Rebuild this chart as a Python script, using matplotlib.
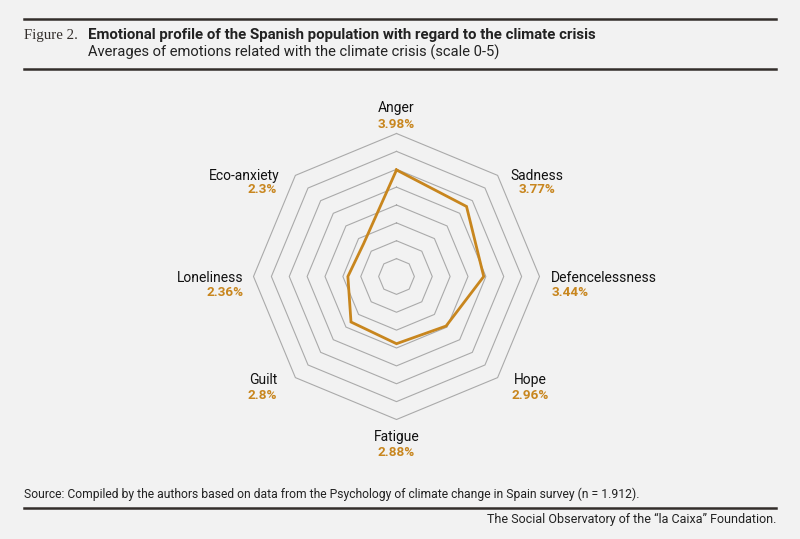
import numpy as np
import matplotlib
matplotlib.use("Agg")
import matplotlib.pyplot as plt
from matplotlib.lines import Line2D

# ---- data ----
categories = ["Anger", "Sadness", "Defencelessness", "Hope",
              "Fatigue", "Guilt", "Loneliness", "Eco-anxiety"]
values = [3.98, 3.77, 3.44, 2.96, 2.88, 2.8, 2.36, 2.3]
value_labels = [f"{v:g}%" for v in values]
ring_levels = [1.5, 2.0, 2.5, 3.0, 3.5, 4.0, 4.5, 5.0]
r_min, r_max = 1.0, 5.0

title_fig = "Figure 2."
title = "Emotional profile of the Spanish population with regard to the climate crisis"
subtitle = "Averages of emotions related with the climate crisis (scale 0-5)"
source = "Source: Compiled by the authors based on data from the Psychology of climate change in Spain survey (n = 1.912)."
credit = "The Social Observatory of the \u201cla Caixa\u201d Foundation."

BG = "#f2f2f2"
ORANGE = "#c8861e"
DARK = "#332e2b"
GRID = "#aaaaaa"
FONT = ["Roboto", "DejaVu Sans"]

fig = plt.figure(figsize=(8, 5.39), dpi=100)
fig.patch.set_facecolor(BG)

W, H = 800, 539
cx, cy, R = 396.5, 276.5, 143.0
ax = fig.add_axes([(cx - R) / W, (H - cy - R) / H, 2 * R / W, 2 * R / H],
                  projection="polar")
ax.set_facecolor("none")
ax.set_theta_zero_location("N")
ax.set_theta_direction(-1)
ax.set_ylim(r_min, r_max)
ax.grid(False)
ax.set_xticks([])
ax.set_yticks([])
ax.spines["polar"].set_visible(False)

n = len(categories)
theta = np.linspace(0, 2 * np.pi, n, endpoint=False)
theta_c = np.append(theta, theta[0])

for lev in ring_levels:
    ax.plot(theta_c, [lev] * (n + 1), color=GRID, lw=0.8, zorder=1,
            clip_on=False)

vals_c = np.append(values, values[0])
ax.plot(theta_c, vals_c, color=ORANGE, lw=2.0, zorder=3, solid_joinstyle="miter",
        clip_on=False)

# label placement styles (pixel offsets from the outer vertex)
styles = [
    ("center", 0, 25.5, 0, 9.5),
    ("center", 39, -0.6, 39, -14.6),
    ("left", 11.5, -1.5, 12.5, -16.5),
    ("center", 33, -2.4, 33, -17.4),
    ("center", 0, -17.5, 0, -32.5),
    ("right", -18.4, -2.4, -18.4, -17.4),
    ("right", -9.5, -1.5, -9.5, -16.5),
    ("right", -15.4, -0.6, -18.4, -14.6),
]
for t, name, vl, (ha, dxn, dyn, dxv, dyv) in zip(theta, categories, value_labels, styles):
    ax.annotate(name, xy=(t, r_max), xytext=(dxn, dyn), textcoords="offset pixels",
                ha=ha, va="center", fontsize=10, color="#111111",
                family=FONT, annotation_clip=False)
    ax.annotate(vl, xy=(t, r_max), xytext=(dxv, dyv), textcoords="offset pixels",
                ha=ha, va="center", fontsize=9.7, color=ORANGE, fontweight="bold",
                family=FONT, annotation_clip=False)

# ---- header / footer ----
def hline(y, lw):
    fig.add_artist(Line2D([24 / W, 776 / W], [1 - y / H, 1 - y / H],
                          color=DARK, lw=lw, transform=fig.transFigure))

hline(18.5, 1.8)
hline(69, 1.8)
hline(508, 1.8)

fig.text(24 / W, 1 - 35 / H, title_fig, family=["Liberation Serif", "DejaVu Serif"],
         fontsize=10.7, color=DARK, va="center", ha="left")
fig.text(88.5 / W, 1 - 35 / H, title, family=FONT, fontsize=10.8, fontweight="bold",
         color="#222222", va="center", ha="left")
fig.text(88.5 / W, 1 - 52 / H, subtitle, family=FONT, fontsize=10.6,
         color="#222222", va="center", ha="left")
fig.text(24 / W, 1 - 494 / H, source, family=FONT, fontsize=8.7,
         color="#222222", va="center", ha="left")
fig.text(776 / W, 1 - 519.5 / H, credit, family=FONT, fontsize=9,
         color="#222222", va="center", ha="right")

fig.savefig("out.png", dpi=100, facecolor=BG)
